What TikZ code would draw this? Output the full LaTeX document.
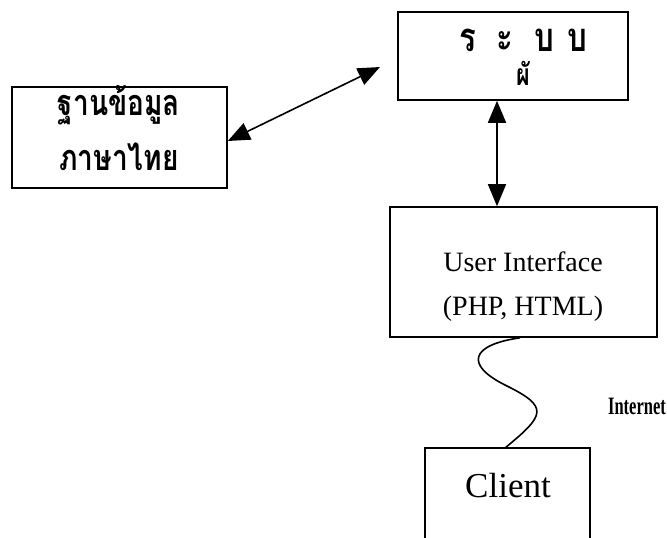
\documentclass[tikz,border=0pt]{standalone}
\usepackage{fontspec}
\setmainfont{Liberation Serif}
\newfontfamily\thaifont[Script=Thai]{Loma}
\usetikzlibrary{arrows.meta}
\newcommand{\thaibig}[2][36]{\scalebox{0.78}[1]{\thaifont\bfseries\fontsize{#1}{40}\selectfont #2}}
\begin{document}
\begin{tikzpicture}[x=1pt,y=-1pt,
  box/.style={draw,line width=1.6pt,inner sep=0pt},
  link/.style={line width=1.6pt,{Triangle[length=22pt,width=18pt]}-{Triangle[length=22pt,width=18pt]}}]
\useasboundingbox (0,0) rectangle (667,538);
% boxes
\node[box,minimum width=230pt,minimum height=88pt] (sys) at (513,56) {};
\node[box,minimum width=215pt,minimum height=101pt] (db) at (119.5,137.5) {};
\node[box,minimum width=267pt,minimum height=130pt] (ui) at (523.5,272) {};
% client box runs past the lower edge of the page
\draw[line width=1.6pt] (425,560) -- (425,448) -- (590,448) -- (590,560);
\coordinate (clt) at (505,448);
% labels
\node (t1) at (523,40) {\thaibig[40]{ร\hspace{27pt}ะ\hspace{27pt}บ\hspace{16pt}บ}};
\node (t2) at (523,73) {\thaibig[30]{ผั}};
\node (d1) at (119,105) {\thaibig{ฐานข้อมูล}};
\node (d2) at (119,157) {\thaibig{ภาษาไทย}};
\node (u1) at (523,262) {\fontsize{28}{30}\selectfont User Interface};
\node (u2) at (523,309) {\fontsize{28}{30}\selectfont (PHP, HTML)};
\node (net) at (637,406) {\scalebox{0.66}[1]{\bfseries\fontsize{25}{28}\selectfont Internet}};
\node (cli) at (508,486) {\fontsize{35}{38}\selectfont Client};
% connectors
\coordinate (tip) at (380,67);
\draw[link] (db.east |- 0,141) -- (tip);
\draw[link] (sys.south -| 497,0) -- (ui.north -| 497,0);
\draw[line width=1.6pt] (ui.south -| 520,0) .. controls (470,345) and (465,365) .. (505,385)
  .. controls (550,407) and (545,415) .. (clt);
\end{tikzpicture}
\end{document}
